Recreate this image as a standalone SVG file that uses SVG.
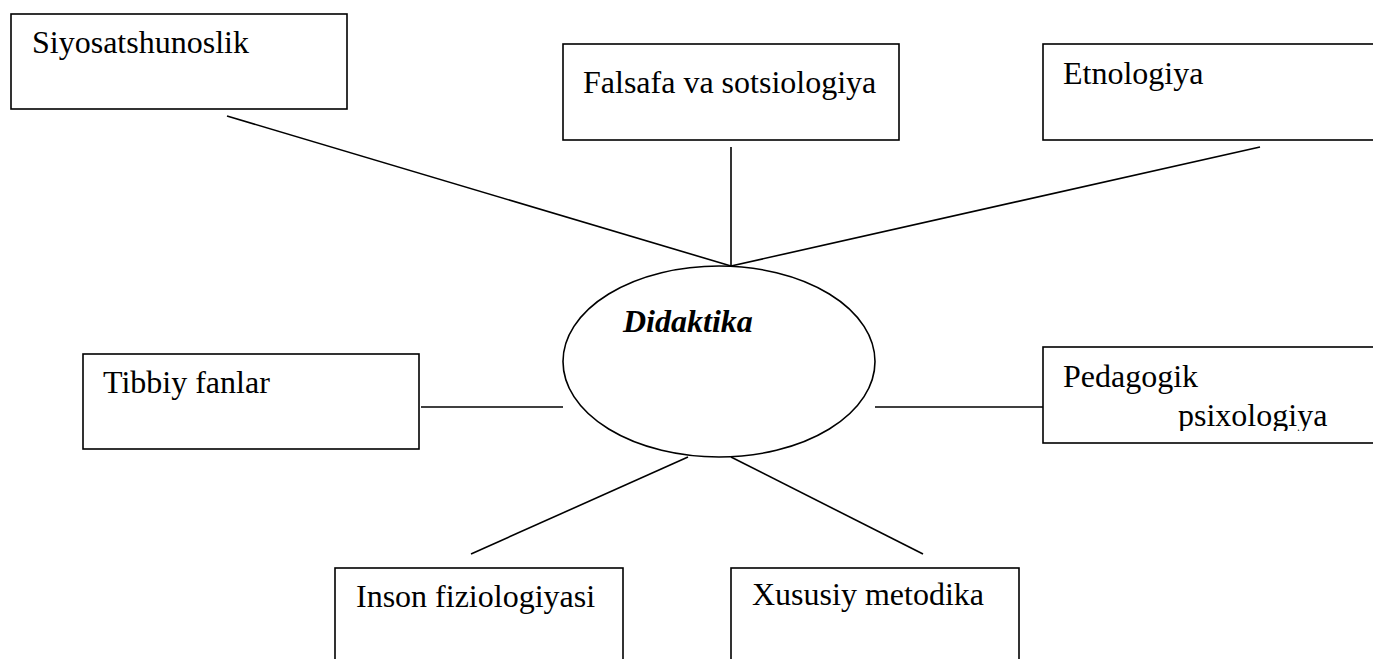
<svg xmlns="http://www.w3.org/2000/svg" width="1373" height="659" viewBox="0 0 1373 659">
<style>
.box{fill:#fff;stroke:#000;stroke-width:1.6}
.lbl{font-family:"Liberation Serif","Times New Roman",serif;font-size:32px;fill:#000}
.conn line{stroke:#000;stroke-width:1.6}
</style>
<defs>
<clipPath id="pclip"><rect x="1043" y="347" width="330" height="84"/></clipPath>
</defs>
<rect width="1373" height="659" fill="#fff"/>
<g id="connectors" class="conn">
<line x1="227" y1="116" x2="731" y2="266"/>
<line x1="731" y1="147" x2="731" y2="266"/>
<line x1="1260" y1="147" x2="731" y2="266"/>
<line x1="421" y1="407" x2="563" y2="407"/>
<line x1="875" y1="407" x2="1043" y2="407"/>
<line x1="688" y1="457" x2="471" y2="554"/>
<line x1="731" y1="457" x2="923" y2="554"/>
</g>
<g id="siyosat">
<rect class="box" x="11" y="14" width="336" height="95"/>
<text class="lbl" x="32" y="53">Siyosatshunoslik</text>
</g>
<g id="falsafa">
<rect class="box" x="563" y="44" width="336" height="96"/>
<text class="lbl" x="583" y="93">Falsafa va sotsiologiya</text>
</g>
<g id="etnologiya">
<rect class="box" x="1043" y="44" width="340" height="96"/>
<text class="lbl" x="1063" y="84">Etnologiya</text>
</g>
<g id="didaktika">
<ellipse class="box" cx="719" cy="361.5" rx="156" ry="95.5"/>
<text class="lbl" x="623" y="332" font-weight="bold" font-style="italic">Didaktika</text>
</g>
<g id="tibbiy">
<rect class="box" x="83" y="354" width="336" height="95"/>
<text class="lbl" x="103" y="393">Tibbiy fanlar</text>
</g>
<g id="pedagogik">
<rect class="box" x="1043" y="347" width="340" height="96"/>
<text class="lbl" x="1063" y="387">Pedagogik</text>
<text class="lbl" x="1178" y="426" clip-path="url(#pclip)">psixologiya</text>
</g>
<g id="inson">
<rect class="box" x="335" y="568" width="288" height="100"/>
<text class="lbl" x="356" y="607">Inson fiziologiyasi</text>
</g>
<g id="xususiy">
<rect class="box" x="731" y="568" width="288" height="100"/>
<text class="lbl" x="752" y="605">Xususiy metodika</text>
</g>
</svg>
